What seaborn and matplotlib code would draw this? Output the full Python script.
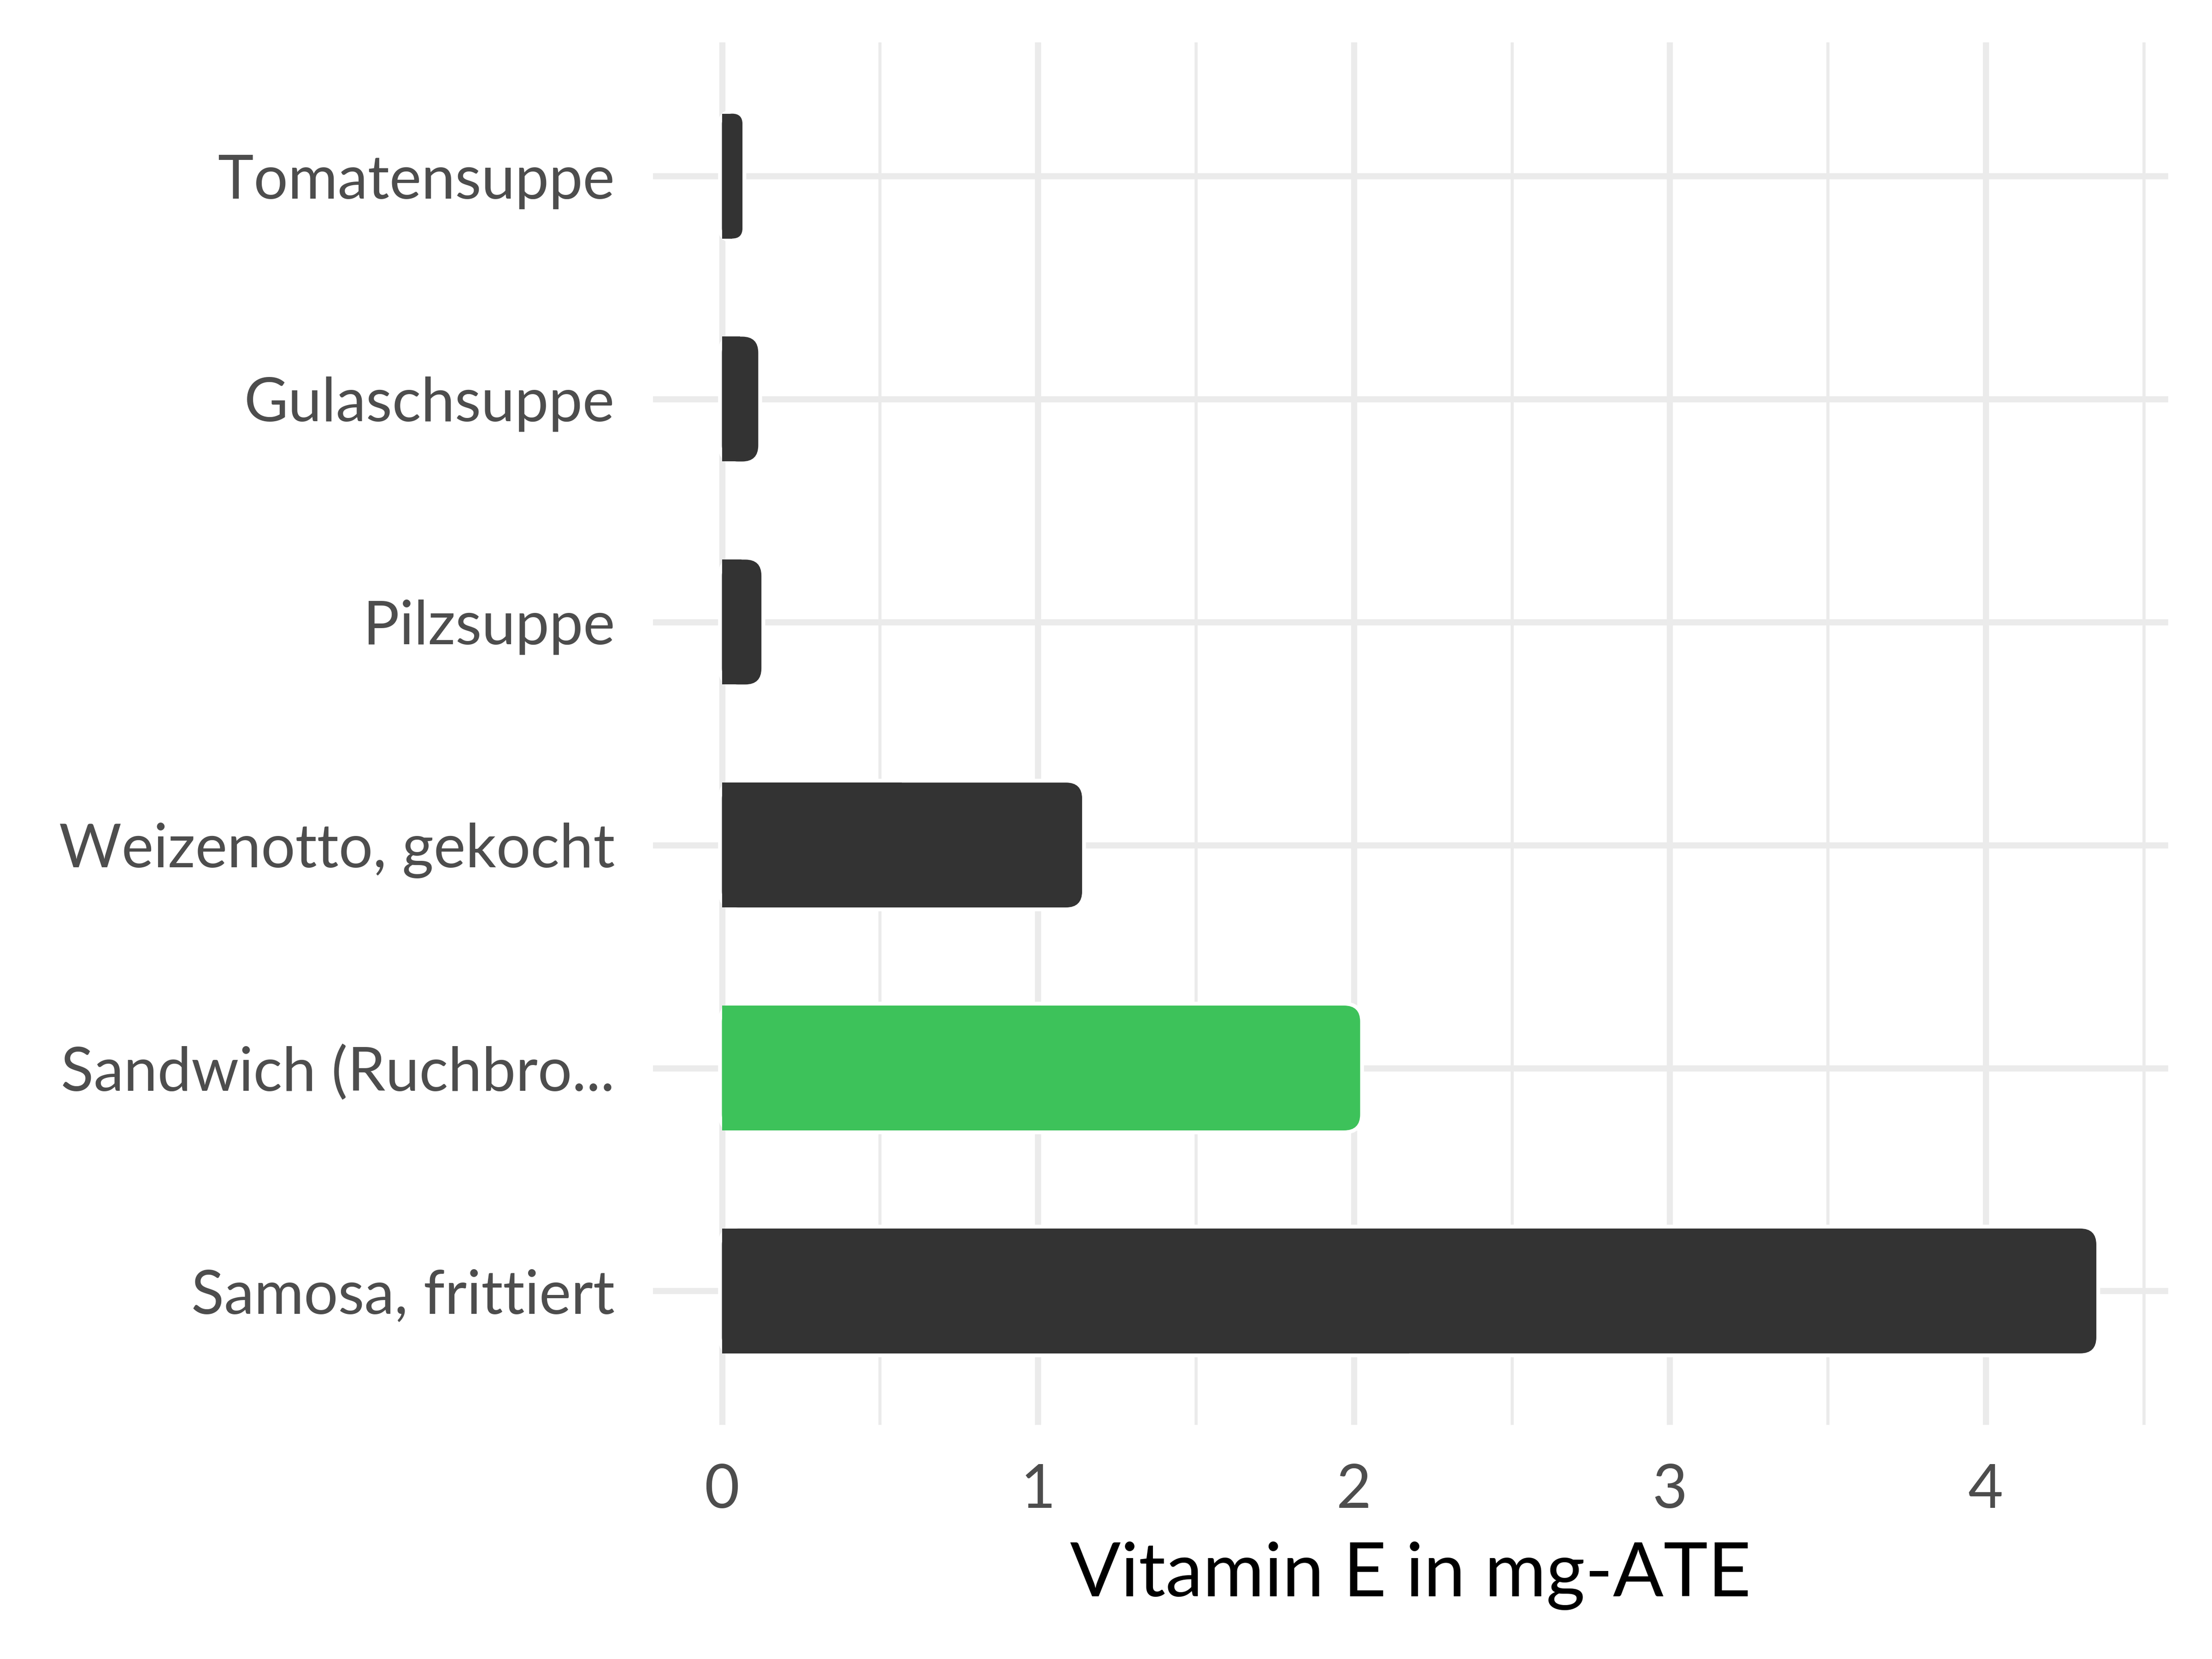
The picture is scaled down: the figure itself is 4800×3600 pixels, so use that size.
import numpy as np
import pandas as pd
import matplotlib
matplotlib.use("Agg")
import matplotlib.pyplot as plt
from matplotlib.patches import FancyBboxPatch, Rectangle
import seaborn as sns

# data
foods = ["Tomatensuppe", "Gulaschsuppe", "Pilzsuppe",
         "Weizenotto, gekocht", "Sandwich (Ruchbro...", "Samosa, frittiert"]
vitamin_e = [0.065, 0.115, 0.125, 1.14, 2.02, 4.35]
bar_colors = ["#333333", "#333333", "#333333", "#333333", "#3DC25A", "#333333"]
x_ticks = [0, 1, 2, 3, 4]
x_label = "Vitamin E in mg-ATE"

df = pd.DataFrame({"food": foods, "value": vitamin_e})

sns.set_style("white")
plt.rcParams["font.family"] = ["Lato", "DejaVu Sans"]

fig = plt.figure(figsize=(16, 12), dpi=300)
ax = fig.add_axes([0.2953, 0.1412, 0.6849, 0.8333])

sns.barplot(data=df, x="value", y="food", hue="food", palette=bar_colors,
            orient="h", width=0.56, legend=False, ax=ax, saturation=1)

# swap the plain bars for ones with rounded right ends
r = 0.051
aspect = 1.417
for patch in list(ax.patches):
    x0, y0 = patch.get_x(), patch.get_y()
    w, h = patch.get_width(), patch.get_height()
    col = patch.get_facecolor()
    patch.remove()
    rs = min(r, w / 2)
    halo = FancyBboxPatch((x0, y0), w, h, boxstyle=f"round,pad=0,rounding_size={rs}",
                          mutation_aspect=aspect, facecolor="white", edgecolor="white",
                          linewidth=4, zorder=2)
    body = FancyBboxPatch((x0, y0), w, h, boxstyle=f"round,pad=0,rounding_size={rs}",
                          mutation_aspect=aspect, facecolor=col, edgecolor="none",
                          linewidth=0, zorder=3)
    left = Rectangle((x0, y0), w / 2, h, facecolor=col, edgecolor="none", zorder=3)
    ax.add_patch(halo)
    ax.add_patch(body)
    ax.add_patch(left)

vmax = max(vitamin_e)
ax.set_xlim(-0.05 * vmax, vmax * 1.05 + 0.01)
ax.set_ylim(len(foods) - 0.4, -0.6)

ax.set_xticks(x_ticks)
ax.set_xticks(np.arange(0.5, 5, 1.0), minor=True)
ax.grid(which="major", axis="both", color="#EBEBEB", linewidth=3.2, zorder=0)
ax.grid(which="minor", axis="x", color="#EBEBEB", linewidth=1.6, zorder=0)
ax.set_axisbelow(True)
for s in ax.spines.values():
    s.set_visible(False)

ax.tick_params(axis="both", which="both", length=0, labelsize=31.5,
               labelcolor="#4D4D4D", pad=20)
ax.set_ylabel("")
ax.set_xlabel(x_label, fontsize=39, color="black", labelpad=12)

fig.savefig("out.png", dpi=300, facecolor="white")
